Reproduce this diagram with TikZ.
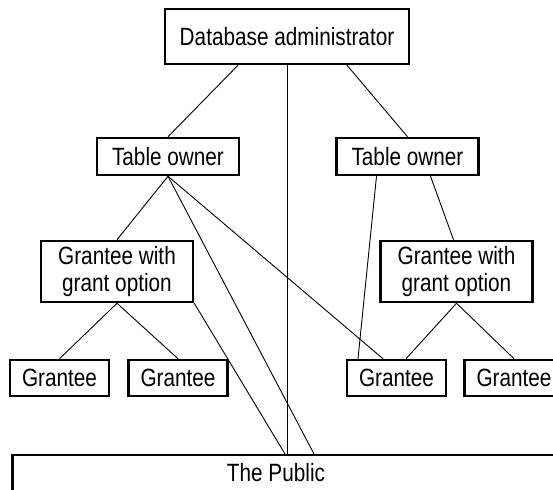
\documentclass[tikz,border=0pt]{standalone}
\usepackage{fontspec}
\setmainfont{Liberation Sans}[FakeStretch=0.83]
\usetikzlibrary{positioning}
\begin{document}
\begin{tikzpicture}[x=1pt, y=1pt, font=\fontsize{25}{27}\selectfont]
% STYLES
\tikzset{%
    role/.style={%
rectangle,
draw,
line width=2.5pt,
inner sep=0pt,
align=center,
minimum height=37pt
                },
    link/.style={%
line width=0.9pt
                }
             }
\useasboundingbox (0,0) rectangle (553,489);
% Draw roles
\node [role, minimum width=244pt, minimum height=55pt] (admin) at (287,452.5) {Database administrator};
\node [role, minimum width=142pt] (ownerL) at (168,332.5) {Table owner};
\node [role, minimum width=142pt, right=95pt of ownerL] (ownerR) {Table owner};
\node [role, minimum width=152pt, minimum height=61pt] (optionL) at (117,217.5) {Grantee with\\grant option};
\node [role, minimum width=152pt, minimum height=61pt, right=185pt of optionL] (optionR) {Grantee with\\grant option};
\node [role, minimum width=99pt, minimum height=36pt] (granteeA) at (59.5,111) {Grantee};
\node [role, minimum width=99pt, minimum height=36pt, right=17pt of granteeA] (granteeB) {Grantee};
\node [role, minimum width=99pt, minimum height=36pt] (granteeC) at (396.5,111) {Grantee};
\node [role, minimum width=99pt, minimum height=36pt, right=16pt of granteeC] (granteeD) {Grantee};
\node [role, anchor=north west, minimum width=640pt, minimum height=60pt] (public) at (11,35) {};
\node (publicname) at (276,16) {The Public};

% Draw the links between roles
\path[link]
([xshift=-49pt]admin.south) edge (ownerL.north)
([xshift=60pt]admin.south) edge (ownerR.north)
(admin.south) edge (admin.south |- public.north)
(ownerL.south) edge (optionL.north)
(ownerL.south) edge ([xshift=303pt]public.north west)
(ownerL.south) edge ([xshift=-13.5pt]granteeC.north)
(optionL.south east) edge ([xshift=274pt]public.north west)
(optionL.south) edge (granteeA.north)
(optionL.south) edge (granteeB.north)
([xshift=-31pt]ownerR.south) edge ([xshift=-38.5pt]granteeC.north)
([xshift=23pt]ownerR.south) edge ([xshift=-3pt]optionR.north)
(optionR.south) edge ([xshift=9.5pt]granteeC.north)
(optionR.south) edge (granteeD.north);
\end{tikzpicture}
\end{document}
